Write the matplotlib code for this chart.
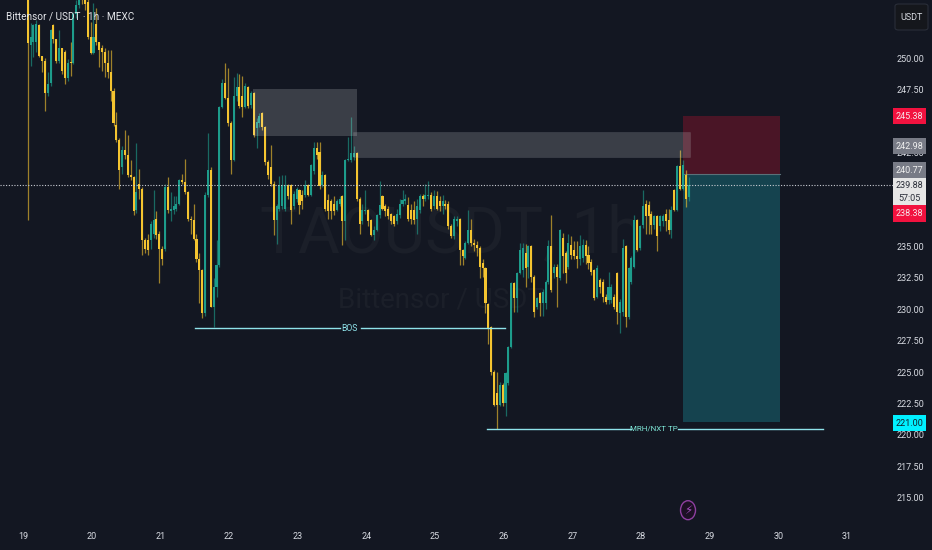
"""TAO/USDT 1h chart with a short position drawing, TradingView dark style."""

import matplotlib
matplotlib.use("Agg")
import matplotlib.pyplot as plt
from matplotlib.patches import Ellipse, Rectangle, FancyBboxPatch
import numpy as np

# ── Data ───────────────────────────────────────────────────────────────────────

opens = [
    256.0, 251.0, 251.3, 251.3, 252.6, 250.2, 249.8, 247.2, 248.0, 252.6,
    251.5, 249.8, 250.8, 250.5, 248.4, 249.7, 249.6, 253.5, 254.2, 255.5,
    255.0, 254.5, 251.7, 250.4, 252.7, 251.3, 250.8, 250.5, 249.6, 248.9,
    247.4, 244.7, 243.5, 241.3, 242.7, 242.3, 240.7, 240.5, 237.9, 240.0,
    239.6, 235.5, 235.5, 235.5, 236.0, 237.2, 236.0, 234.8, 234.8, 239.7,
    237.8, 237.9, 238.0, 238.4, 240.3, 240.1, 239.3, 237.2, 237.1, 235.6,
    234.0, 233.1, 229.7, 239.1, 241.1, 230.2, 231.8, 233.5, 246.1, 248.0,
    246.8, 244.8, 241.9, 247.0, 247.7, 247.0, 246.1, 247.7, 246.3, 247.2,
    244.4, 244.8, 245.6, 244.5, 241.7, 241.3, 240.0, 237.1, 238.0, 238.2,
    238.0, 239.9, 239.9, 238.2, 238.8, 239.5, 239.1, 239.1, 239.9, 239.1,
    241.0, 242.8, 242.5, 239.9, 240.7, 238.7, 238.6, 238.4, 237.9, 238.4,
    239.0, 237.0, 241.9, 241.9, 242.1, 242.4, 238.8, 237.0, 237.8, 237.9,
    237.1, 235.9, 236.3, 237.5, 239.0, 238.2, 238.0, 237.6, 237.4, 237.0,
    237.5, 238.4, 238.6, 238.3, 237.9, 237.9, 237.2, 237.9, 239.0, 238.8,
    239.0, 239.1, 238.2, 239.0, 238.6, 238.2, 238.4, 238.4, 236.6, 235.8,
    237.0, 237.2, 234.7, 234.1, 235.3, 236.3, 235.3, 235.1, 234.9, 233.7,
    233.3, 230.4, 228.6, 225.0, 223.3, 222.4, 224.0, 222.5, 224.1, 227.0,
    232.1, 230.9, 232.9, 233.1, 234.5, 233.4, 235.0, 232.6, 230.2, 231.3,
    230.5, 230.5, 232.2, 235.0, 232.9, 233.4, 232.5, 235.7, 234.5, 233.4,
    235.1, 234.7, 234.2, 234.0, 234.1, 235.1, 234.3, 233.8, 233.1, 231.0,
    232.3, 232.2, 231.0, 230.7, 230.7, 231.0, 232.9, 229.7, 229.8, 235.0,
    229.4, 232.2, 233.4, 237.1, 234.9, 236.7, 238.4, 238.3, 237.6, 236.7,
    237.4, 236.6, 237.0, 237.6, 237.1, 236.3, 239.5, 237.9, 241.4, 239.6,
    240.7, 238.9,
]
highs = [
    256.5, 252.8, 252.7, 253.0, 252.7, 250.2, 250.0, 248.9, 252.3, 252.7,
    251.5, 252.2, 250.8, 250.6, 249.9, 251.3, 253.7, 254.6, 255.5, 256.0,
    255.2, 255.0, 252.9, 254.4, 254.0, 251.3, 251.0, 250.8, 250.6, 250.6,
    247.6, 245.7, 243.6, 243.0, 244.3, 243.9, 241.9, 240.6, 243.2, 241.2,
    239.7, 235.7, 236.0, 237.0, 239.5, 237.8, 236.2, 235.0, 240.0, 240.5,
    239.3, 239.0, 239.0, 240.4, 240.8, 242.0, 239.4, 237.4, 238.4, 236.0,
    234.5, 233.2, 239.3, 244.0, 241.3, 232.5, 235.5, 246.2, 248.3, 249.6,
    249.2, 245.0, 248.5, 248.8, 248.7, 248.6, 248.0, 247.8, 247.4, 247.3,
    245.2, 245.6, 245.7, 244.6, 241.9, 243.1, 240.2, 238.4, 240.6, 240.7,
    240.7, 240.0, 240.0, 239.4, 239.7, 239.6, 239.5, 240.3, 240.0, 241.6,
    243.3, 243.3, 243.3, 241.0, 240.8, 239.2, 238.8, 239.0, 238.8, 239.0,
    239.1, 242.0, 243.7, 245.3, 243.0, 242.5, 238.9, 238.4, 239.5, 238.0,
    237.2, 236.6, 237.6, 240.2, 239.1, 238.4, 238.2, 237.7, 237.5, 238.0,
    238.8, 239.5, 239.2, 238.9, 238.4, 238.6, 238.8, 239.2, 239.2, 240.0,
    240.2, 239.3, 239.5, 239.4, 239.0, 239.1, 238.7, 238.6, 236.8, 237.4,
    237.4, 237.3, 234.8, 235.4, 237.9, 237.2, 235.6, 235.4, 235.0, 234.0,
    233.4, 230.5, 228.7, 225.2, 225.0, 224.2, 224.1, 225.0, 227.1, 232.2,
    232.2, 233.0, 235.3, 235.3, 235.2, 235.1, 235.1, 232.7, 231.0, 231.4,
    231.6, 232.3, 235.5, 237.5, 233.6, 233.6, 236.4, 236.1, 234.6, 236.0,
    235.8, 235.4, 235.4, 235.9, 235.6, 235.5, 235.0, 234.0, 233.2, 233.5,
    232.5, 232.4, 231.2, 233.0, 232.0, 231.2, 233.0, 230.8, 235.6, 235.1,
    233.4, 234.2, 237.5, 237.2, 236.7, 239.5, 238.7, 238.6, 237.8, 237.5,
    237.5, 237.5, 237.6, 238.0, 238.0, 238.2, 239.6, 241.5, 242.7, 241.9,
    241.1, 240.5,
]
lows = [
    237.1, 249.4, 250.1, 250.5, 250.1, 248.9, 245.8, 247.0, 247.8, 251.2,
    249.6, 249.6, 248.7, 247.9, 248.2, 248.6, 249.5, 253.2, 254.0, 254.3,
    253.8, 251.5, 250.3, 250.3, 251.0, 249.3, 249.0, 248.5, 248.4, 246.6,
    244.6, 243.3, 239.6, 240.8, 242.0, 240.5, 240.3, 237.5, 237.7, 238.8,
    234.3, 234.5, 234.3, 234.8, 235.7, 235.6, 232.1, 233.5, 234.6, 237.7,
    237.0, 237.6, 237.8, 238.3, 240.0, 239.2, 237.0, 236.0, 235.5, 233.8,
    230.5, 229.3, 229.5, 238.9, 230.2, 228.6, 231.0, 233.4, 246.0, 246.7,
    244.6, 240.8, 241.8, 246.6, 246.0, 245.3, 246.0, 246.0, 246.0, 243.7,
    242.8, 244.5, 244.3, 241.5, 240.4, 239.8, 235.9, 235.2, 237.8, 238.0,
    237.8, 238.8, 236.8, 238.0, 238.5, 237.6, 238.0, 238.9, 239.0, 239.0,
    240.8, 242.0, 239.6, 239.7, 237.8, 237.2, 237.2, 237.5, 237.8, 238.2,
    235.1, 235.5, 241.8, 241.7, 241.9, 238.6, 236.0, 236.8, 237.6, 236.6,
    235.8, 235.5, 236.2, 237.3, 237.9, 237.4, 237.2, 236.8, 236.6, 236.8,
    237.3, 238.2, 238.4, 237.0, 236.8, 236.8, 236.0, 237.7, 238.2, 238.6,
    238.8, 237.8, 238.0, 237.9, 237.8, 237.6, 238.0, 236.4, 235.7, 235.6,
    236.6, 233.5, 233.5, 234.0, 235.2, 235.0, 234.6, 234.2, 232.5, 232.6,
    229.7, 227.2, 224.8, 222.3, 220.5, 222.3, 222.3, 221.5, 224.0, 226.9,
    229.8, 229.8, 232.8, 232.6, 231.8, 232.5, 232.2, 229.4, 230.0, 229.5,
    229.5, 230.0, 232.0, 231.4, 232.5, 230.2, 232.3, 232.9, 232.1, 233.2,
    234.0, 234.0, 233.3, 233.5, 233.8, 233.6, 233.2, 232.7, 230.7, 230.9,
    231.3, 230.6, 230.4, 230.4, 230.5, 230.0, 228.8, 228.1, 229.5, 228.6,
    229.2, 232.0, 233.3, 234.6, 234.7, 236.5, 236.0, 236.0, 236.0, 236.4,
    234.6, 236.2, 236.6, 236.2, 236.0, 235.7, 237.8, 237.8, 239.5, 239.5,
    238.1, 238.6,
]
closes = [
    251.2, 251.7, 252.6, 252.7, 250.2, 249.8, 247.2, 247.9, 252.2, 251.5,
    249.8, 250.8, 249.0, 248.4, 249.6, 249.6, 253.5, 254.2, 255.0, 254.8,
    254.3, 251.7, 250.4, 251.7, 251.3, 250.6, 250.5, 249.6, 248.9, 247.4,
    244.8, 243.5, 241.1, 242.7, 242.3, 240.7, 240.5, 237.8, 239.3, 239.6,
    235.5, 234.8, 234.7, 236.8, 237.1, 235.9, 234.8, 234.0, 239.7, 237.9,
    238.0, 238.2, 238.4, 240.3, 240.1, 239.3, 237.2, 237.1, 235.6, 234.0,
    233.1, 229.7, 239.1, 241.1, 230.2, 231.8, 233.5, 246.1, 248.0, 246.8,
    244.8, 241.9, 247.0, 247.7, 246.2, 246.1, 247.8, 246.2, 247.2, 243.9,
    244.9, 245.4, 244.5, 241.7, 240.7, 240.0, 237.1, 238.2, 239.9, 239.9,
    239.9, 239.0, 237.9, 239.2, 239.6, 238.3, 238.6, 239.9, 239.1, 241.5,
    242.8, 242.3, 239.8, 240.7, 238.0, 237.8, 237.8, 237.8, 238.6, 238.8,
    237.0, 241.9, 242.0, 242.4, 242.4, 238.8, 236.8, 237.9, 237.9, 237.0,
    235.9, 236.3, 237.5, 238.3, 238.0, 237.8, 237.4, 237.0, 236.8, 237.6,
    238.4, 238.7, 238.8, 237.2, 237.2, 237.1, 238.2, 239.0, 238.8, 239.1,
    239.1, 238.0, 239.0, 238.0, 238.2, 238.6, 238.2, 236.6, 235.8, 237.2,
    237.2, 234.7, 234.2, 235.3, 236.3, 235.3, 235.1, 234.9, 233.4, 233.3,
    230.5, 228.4, 225.0, 222.4, 222.4, 224.0, 222.5, 224.9, 227.0, 232.1,
    230.9, 232.9, 234.7, 234.9, 233.3, 235.0, 232.6, 229.8, 230.9, 230.5,
    231.4, 232.2, 235.0, 231.5, 233.4, 232.6, 236.3, 234.2, 232.9, 235.3,
    234.3, 234.2, 234.0, 235.0, 235.1, 234.2, 233.7, 233.0, 230.9, 233.3,
    231.8, 231.0, 230.6, 231.8, 231.8, 230.2, 229.8, 230.6, 234.9, 229.4,
    233.3, 234.1, 237.1, 234.7, 236.6, 238.2, 237.4, 237.4, 236.7, 237.4,
    235.8, 237.4, 237.4, 237.0, 236.3, 237.9, 237.9, 241.4, 239.6, 241.5,
    238.8, 239.88,
]

# 245, 240 and 237.50 are hidden behind the price badges in the reference
price_ticks = [215.0, 217.5, 220.0, 222.5, 225.0, 227.5, 230.0, 232.5, 235.0,
               242.5, 247.5, 250.0]
day_ticks = [19, 20, 21, 22, 23, 24, 25, 26, 27, 28, 29, 30, 31]

last_price = 239.88
stop_price = 245.38
entry_price = 240.77
target_price = 221.00
bos_price = 228.48
mrh_price = 220.5

# (label, price shown at, box colour, text colour)
badges = [
    ("245.38", 245.38, "#f2123f", "#f5e6ea"),
    ("242.98", 242.98, "#787b86", "#f0f0f0"),
    ("240.77", 241.08, "#787b86", "#f0f0f0"),
    ("238.38", 237.62, "#f2123f", "#f5e6ea"),
    ("221.00", 220.94, "#00f0ff", "#10202a"),
]

# ── Style ──────────────────────────────────────────────────────────────────────

BG = "#131722"
UP = "#1d9c8b"
DOWN = "#f4c430"
LINE = "#8fe3ea"
TEXT = "#d8dbe2"
AXIS_FONT = 6.5
plt.rcParams["font.family"] = ["Roboto", "DejaVu Sans"]

W, H = 932, 550
AX_RIGHT = 893
AX_BOTTOM = 522

fig = plt.figure(figsize=(W / 100, H / 100), dpi=100, facecolor=BG)
ax = fig.add_axes([0, (H - AX_BOTTOM) / H, AX_RIGHT / W, AX_BOTTOM / H], facecolor=BG)
ax.set_xlim(18.665, 31.669)
ax.set_ylim(213.06, 254.62)
for s in ax.spines.values():
    s.set_visible(False)

# ── Watermark ──────────────────────────────────────────────────────────────────

ax.text(25.23, 235.9, "TAOUSDT, 1h", fontsize=46, color="#1b1f29", ha="center",
        va="center", zorder=0)
ax.text(25.09, 230.7, "Bittensor / USDT", fontsize=20, color="#1b1f29", ha="center",
        va="center", zorder=0)

# ── Position boxes ─────────────────────────────────────────────────────────────

ax.add_patch(Rectangle((28.605, entry_price), 1.425, stop_price - entry_price,
                       fc="#4a1526", ec="none", zorder=1))
ax.add_patch(Rectangle((28.605, target_price), 1.425, entry_price - target_price,
                       fc="#15434f", ec="none", zorder=1))
ax.plot([28.605, 30.03], [entry_price, entry_price], color="#5a7078", lw=0.8, zorder=1)

# ── Candles ────────────────────────────────────────────────────────────────────

o = np.array(opens)
h = np.array(highs)
l = np.array(lows)
c = np.array(closes)
t = 19.068 + np.arange(len(o)) / 24
colors = np.where(c >= o, UP, DOWN)

ax.vlines(t, l, h, colors=colors, linewidth=0.9, alpha=0.62, zorder=2)
ax.bar(t, np.maximum(np.abs(c - o), 0.08), bottom=np.minimum(o, c), width=0.03,
       color=colors, linewidth=0, zorder=3)

# ── Resistance zones ───────────────────────────────────────────────────────────

ax.add_patch(Rectangle((22.35, 243.8), 1.51, 3.7, fc="#ffffff", alpha=0.17, ec="none", zorder=4))
ax.add_patch(Rectangle((23.8, 242.1), 4.92, 2.0, fc="#ffffff", alpha=0.17, ec="#9598a1",
                       lw=0.6, zorder=4))

# ── Levels ─────────────────────────────────────────────────────────────────────

ax.axhline(last_price, color="#c9ccd3", linewidth=0.8, linestyle=(0, (1, 1.5)), zorder=5)

ax.plot([21.5, 23.62], [bos_price, bos_price], color=LINE, lw=1, zorder=5)
ax.plot([23.92, 26.02], [bos_price, bos_price], color=LINE, lw=1, zorder=5)
ax.text(23.76, bos_price, "BOS", color=LINE, fontsize=6.2, ha="center", va="center", zorder=6)

ax.plot([25.76, 27.85], [mrh_price, mrh_price], color=LINE, lw=1, zorder=5)
ax.plot([28.54, 30.65], [mrh_price, mrh_price], color=LINE, lw=1, zorder=5)
ax.text(28.19, mrh_price, "MRH/NXT TP", color="#7fe8d8", fontsize=5.8, ha="center",
        va="center", zorder=6)

# ── Lightning marker ───────────────────────────────────────────────────────────

ax.add_patch(Ellipse((28.684, 214.0), 0.218, 1.51, fc="#1c1024", ec="#8e3fa0", lw=1, zorder=6))
ax.text(28.684, 214.0, "\u26a1", color="#a64fc0", fontsize=8.5, ha="center", va="center",
        family="DejaVu Sans", zorder=7)

# ── Axes labels ────────────────────────────────────────────────────────────────

ax.yaxis.tick_right()
ax.set_yticks(price_ticks, [f"{p:.2f}" for p in price_ticks], ha="center")
ax.set_xticks(day_ticks, [str(d) for d in day_ticks])
ax.tick_params(axis="y", length=0, pad=12.6, labelsize=AXIS_FONT, labelcolor=TEXT)
ax.tick_params(axis="x", length=0, pad=7, labelsize=AXIS_FONT, labelcolor=TEXT)

ytrans = ax.get_yaxis_transform()
bw = 33 / AX_RIGHT

# current price + countdown box sits behind the neighbouring badges
ax.add_patch(Rectangle((1.0, 237.6), bw, 3.4, fc="#e6e6e6", ec="none", transform=ytrans,
                       clip_on=False, zorder=8))
ax.text(1 + bw / 2, last_price, "239.88", color="#2a2e39", fontsize=AXIS_FONT, ha="center",
        va="center", transform=ytrans, zorder=9)
ax.text(1 + bw / 2, 238.85, "57:05", color="#2a2e39", fontsize=AXIS_FONT, ha="center",
        va="center", transform=ytrans, zorder=9)

for label, y, fc, tc in badges:
    ax.add_patch(Rectangle((1.0, y - 0.65), bw, 1.3, fc=fc, ec="none", transform=ytrans,
                           clip_on=False, zorder=8))
    ax.text(1 + bw / 2, y, label, color=tc, fontsize=AXIS_FONT, ha="center", va="center",
            transform=ytrans, zorder=9)

# ── Header text and currency button ────────────────────────────────────────────

fig.text(6 / W, 1 - 16 / H, "Bittensor / USDT \u00b7 1h \u00b7 MEXC", color="#e4e6ea",
         fontsize=7.2, va="center", ha="left", zorder=10)

btn = FancyBboxPatch((895 / W, 1 - 30 / H), 33 / W, 26 / H, transform=fig.transFigure,
                     boxstyle="round,pad=0,rounding_size=0.004", fc="#15171c", ec="#2a2e39", lw=0.8)
fig.add_artist(btn)
fig.text(911.5 / W, 1 - 17 / H, "USDT", color=TEXT, fontsize=AXIS_FONT, ha="center", va="center")

fig.savefig("out.png", dpi=100, facecolor=BG)
